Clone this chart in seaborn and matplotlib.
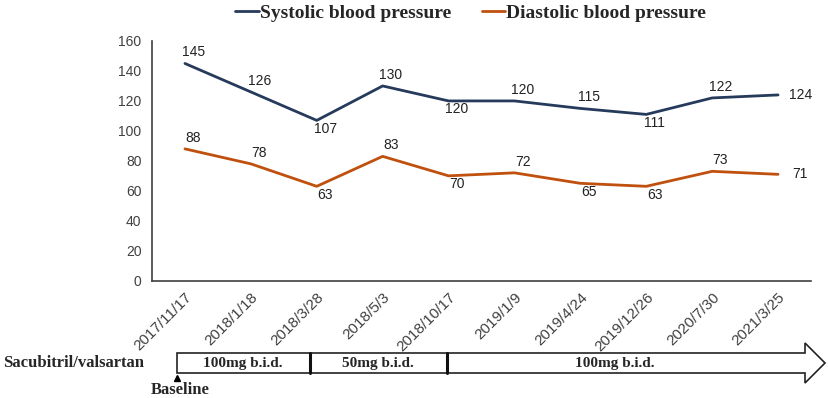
import numpy as np
import pandas as pd
import seaborn as sns
import matplotlib.pyplot as plt
from matplotlib.lines import Line2D
from matplotlib.patches import Polygon

# visit dates and blood pressure readings
dates = ['2017/11/17', '2018/1/18', '2018/3/28', '2018/5/3', '2018/10/17',
         '2019/1/9', '2019/4/24', '2019/12/26', '2020/7/30', '2021/3/25']
systolic = [145, 126, 107, 130, 120, 120, 115, 111, 122, 124]
diastolic = [88, 78, 63, 83, 70, 72, 65, 63, 73, 71]
sys_label_pos = ['up', 'up', 'down', 'up', 'down', 'up', 'up', 'down', 'up', 'right']
dia_label_pos = ['up', 'up', 'down', 'up', 'down', 'up', 'down', 'down', 'up', 'right']
regimen = ['100mg b.i.d.', '50mg b.i.d.', '100mg b.i.d.']
yticks = [0, 20, 40, 60, 80, 100, 120, 140, 160]

SYS_COLOR = '#263a5c'
DIA_COLOR = '#c0500e'
AX_COLOR = '#404040'

sns.set_style('white')
plt.rcParams['font.family'] = ['Liberation Sans', 'DejaVu Sans']

df = pd.DataFrame({
    'idx': list(range(len(dates))) * 2,
    'bp': systolic + diastolic,
    'kind': ['Systolic blood pressure'] * len(dates) + ['Diastolic blood pressure'] * len(dates),
})

fig = plt.figure(figsize=(8.29, 3.98), dpi=100)
ax = fig.add_axes([152 / 829, 1 - 280.7 / 398, (811 - 152) / 829, (280.7 - 41) / 398])

sns.lineplot(data=df, x='idx', y='bp', hue='kind',
             palette=[SYS_COLOR, DIA_COLOR], linewidth=2.0, legend=False, ax=ax)

ax.set_xlim(-0.5, len(dates) - 0.5)
ax.set_ylim(0, 160)
ax.set_yticks(yticks)
ax.set_xticks(range(len(dates)))
ax.set_xticklabels(dates, rotation=45, ha='right', rotation_mode='anchor')
ax.set_xlabel('')
ax.set_ylabel('')
ax.tick_params(axis='both', labelsize=10, colors=AX_COLOR, length=4, width=1, direction='out')
ax.tick_params(axis='x', pad=3, labelsize=11)
for side in ['top', 'right']:
    ax.spines[side].set_visible(False)
for side in ['left', 'bottom']:
    ax.spines[side].set_color(AX_COLOR)
    ax.spines[side].set_linewidth(1.2)


def add_labels(values, positions):
    offs = {'up': (6, 3, 'bottom'), 'down': (6, -1, 'top'), 'right': (16, 0, 'center')}
    for i, (v, p) in enumerate(zip(values, positions)):
        dx, dy, va = offs[p]
        ax.annotate(str(v), (i, v), xytext=(dx, dy), textcoords='offset points',
                    ha='center', va=va, fontsize=10, color='#222222')


add_labels(systolic, sys_label_pos)
add_labels(diastolic, dia_label_pos)

# legend at top
handles = [Line2D([0], [0], color=SYS_COLOR, lw=2.0),
           Line2D([0], [0], color=DIA_COLOR, lw=2.0)]
fig.legend(handles, ['Systolic blood pressure', 'Diastolic blood pressure'],
           loc='center', bbox_to_anchor=(0.568, 0.968), ncol=2, frameon=False,
           handlelength=1.2, handletextpad=0.05, columnspacing=1.6,
           prop={'family': 'Liberation Serif', 'weight': 'bold', 'size': 14})

# treatment timeline arrow (figure pixel space)
tl = fig.add_axes([0, 0, 1, 1])
tl.set_xlim(0, 829)
tl.set_ylim(398, 0)
tl.axis('off')
tl.patch.set_alpha(0)

arrow = Polygon([(177, 353), (805, 353), (805, 343), (825, 363), (805, 383),
                 (805, 373), (177, 373)], closed=True,
                facecolor='white', edgecolor='#222222', linewidth=1.2)
tl.add_patch(arrow)
for xd in [310, 447]:
    tl.plot([xd, xd], [353, 373], color='#111111', linewidth=2.2)

serif_bold = dict(family='Liberation Serif', weight='bold')
for xc, txt in zip([243, 378, 615], regimen):
    tl.text(xc, 363.5, txt, ha='center', va='center', fontsize=11, **serif_bold)

tl.text(3, 363, 'Sacubitril/valsartan', ha='left', va='center', fontsize=12, **serif_bold)
tl.text(180, 390, 'Baseline', ha='center', va='center', fontsize=12, **serif_bold)
tl.plot([177], [378], marker='^', color='black', markersize=4.5)

fig.savefig('out.png', dpi=100)
